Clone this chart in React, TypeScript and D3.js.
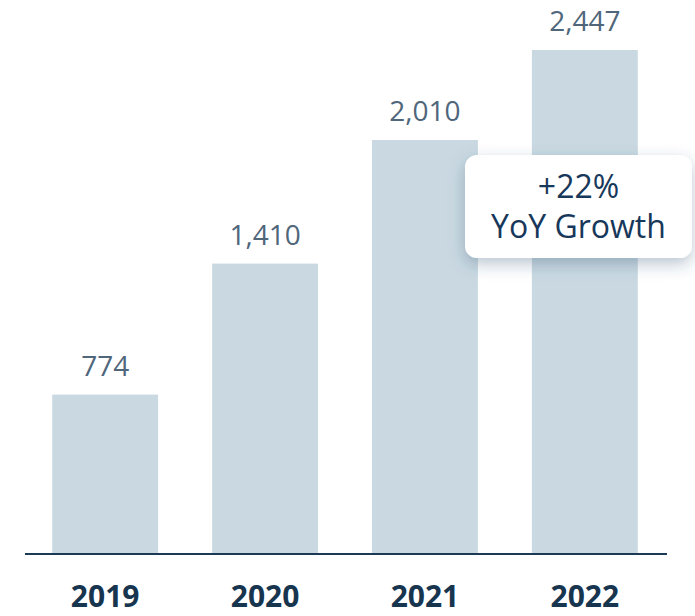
import React from 'react';
import * as d3 from 'd3';

// chart values
const years = ['2019', '2020', '2021', '2022'];
const totals = [774, 1410, 2010, 2447];
const calloutLines = ['+22%', 'YoY Growth'];

const W = 695;
const H = 616;
const FONT = "'Open Sans', 'Noto Sans', sans-serif";

export default function App() {
  const x = d3.scaleBand<string>()
    .domain(years)
    .range([25, 665])
    .paddingInner(0.3375)
    .paddingOuter(0.17);

  const baseline = 554;
  const y = d3.scaleLinear()
    .domain([0, d3.max(totals) as number])
    .range([baseline, 50]);

  const fmt = d3.format(',');

  // callout box sits over the last two bars
  const box = { x: 465, y: 155, w: 227, h: 103 };
  const boxCx = box.x + box.w / 2;

  return (
    <div style={{ position: 'absolute', left: 0, top: 0 }}>
      <svg width={W} height={H} style={{ display: 'block' }}>
        <defs>
          <filter id="callout-shadow" x="-30%" y="-40%" width="160%" height="190%">
            <feDropShadow dx="0" dy="6" stdDeviation="8" floodColor="#2f4f6f" floodOpacity="0.32" />
          </filter>
        </defs>

        {years.map((yr, i) => (
          <g key={yr}>
            <rect
              x={x(yr)}
              y={y(totals[i])}
              width={x.bandwidth()}
              height={baseline - y(totals[i])}
              fill="#cad9e1"
            />
            <text
              x={(x(yr) as number) + x.bandwidth() / 2}
              y={y(totals[i]) - 19}
              textAnchor="middle"
              fontFamily={FONT}
              fontSize={28}
              fill="#4f667b"
            >
              {fmt(totals[i])}
            </text>
            <text
              x={(x(yr) as number) + x.bandwidth() / 2}
              y={607}
              textAnchor="middle"
              fontFamily={FONT}
              fontSize={30}
              fontWeight={700}
              fill="#17354f"
            >
              {yr}
            </text>
          </g>
        ))}

        <line x1={25} x2={667} y1={baseline} y2={baseline} stroke="#1d3a55" strokeWidth={2} />

        <g filter="url(#callout-shadow)">
          <rect x={box.x} y={box.y} width={box.w} height={box.h} rx={12} ry={12} fill="#ffffff" />
        </g>
        {calloutLines.map((t, i) => (
          <text
            key={t}
            x={boxCx}
            y={198 + i * 40}
            textAnchor="middle"
            fontFamily={FONT}
            fontSize={32}
            fill="#17385a"
          >
            {t}
          </text>
        ))}
      </svg>
    </div>
  );
}
